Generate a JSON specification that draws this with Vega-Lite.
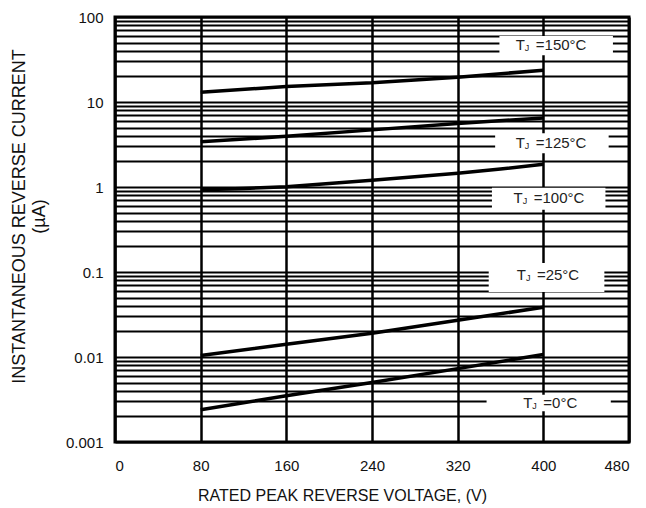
{
  "$schema": "https://vega.github.io/schema/vega-lite/v6.json",
  "width": 514,
  "height": 425,
  "autosize": "none",
  "padding": {"left": 115, "top": 17, "right": 17, "bottom": 66},
  "background": "white",
  "config": {
    "view": {"stroke": "black", "strokeWidth": 3},
    "font": "Liberation Sans"
  },
  "datasets": {
    "curves": [
      {"t": "150", "v": 80, "i": 13.0}, {"t": "150", "v": 160, "i": 15.2}, {"t": "150", "v": 240, "i": 16.8}, {"t": "150", "v": 320, "i": 19.6}, {"t": "150", "v": 400, "i": 23.6},
      {"t": "125", "v": 80, "i": 3.4}, {"t": "125", "v": 160, "i": 3.95}, {"t": "125", "v": 240, "i": 4.7}, {"t": "125", "v": 320, "i": 5.6}, {"t": "125", "v": 400, "i": 6.5},
      {"t": "100", "v": 80, "i": 0.93}, {"t": "100", "v": 120, "i": 0.96}, {"t": "100", "v": 160, "i": 1.01}, {"t": "100", "v": 200, "i": 1.1}, {"t": "100", "v": 240, "i": 1.2}, {"t": "100", "v": 280, "i": 1.32}, {"t": "100", "v": 320, "i": 1.45}, {"t": "100", "v": 360, "i": 1.63}, {"t": "100", "v": 400, "i": 1.85},
      {"t": "25", "v": 80, "i": 0.0104}, {"t": "25", "v": 160, "i": 0.0141}, {"t": "25", "v": 240, "i": 0.019}, {"t": "25", "v": 320, "i": 0.027}, {"t": "25", "v": 400, "i": 0.0385},
      {"t": "0", "v": 80, "i": 0.0024}, {"t": "0", "v": 160, "i": 0.0035}, {"t": "0", "v": 240, "i": 0.005}, {"t": "0", "v": 320, "i": 0.0073}, {"t": "0", "v": 400, "i": 0.0107}
    ],
    "boxes": [
      {"v": 359, "v2": 465, "i": 35.6, "i2": 59.7},
      {"v": 355, "v2": 461, "i": 2.5, "i2": 4.3},
      {"v": 352, "v2": 458, "i": 0.54, "i2": 0.98},
      {"v": 349, "v2": 457, "i": 0.058, "i2": 0.128},
      {"v": 347, "v2": 463, "i": 0.0023, "i2": 0.0036}
    ],
    "labels": [
      {"v": 393, "i": 46.8, "rest": "=150°C"},
      {"v": 393, "i": 3.27, "rest": "=125°C"},
      {"v": 391, "i": 0.74, "rest": "=100°C"},
      {"v": 394, "i": 0.093, "rest": "=25°C"},
      {"v": 400, "i": 0.0029, "rest": "=0°C"}
    ]
  },
  "layer": [
    {
      "data": {"name": "curves"},
      "mark": {"type": "line", "color": "black", "strokeWidth": 3.5},
      "encoding": {
        "x": {
          "field": "v", "type": "quantitative",
          "scale": {"domain": [0, 480], "nice": false, "zero": false},
          "axis": {
            "values": [0, 80, 160, 240, 320, 400, 480],
            "grid": true, "gridColor": "black", "gridWidth": 2.5, "gridOpacity": 1,
            "ticks": false, "domain": false,
            "labelFontSize": 15, "labelColor": "#111", "labelPadding": 16,
            "title": "RATED PEAK REVERSE VOLTAGE, (V)",
            "titleFontSize": 16, "titleFontWeight": "normal", "titleColor": "#111", "titlePadding": 14,
            "titleX": 227, "titleAlign": "center", "titleAnchor": null
          }
        },
        "y": {
          "field": "i", "type": "quantitative",
          "scale": {"type": "log", "domain": [0.001, 100], "nice": false},
          "axis": {
            "values": [0.001, 0.002, 0.003, 0.004, 0.005, 0.006, 0.007, 0.008, 0.009,
                       0.01, 0.02, 0.03, 0.04, 0.05, 0.06, 0.07, 0.08, 0.09,
                       0.1, 0.2, 0.3, 0.4, 0.5, 0.6, 0.7, 0.8, 0.9,
                       1, 2, 3, 4, 5, 6, 7, 8, 9,
                       10, 20, 30, 40, 50, 60, 70, 80, 90, 100],
            "labelExpr": "(abs(log(datum.value)/LN10 - round(log(datum.value)/LN10)) < 0.0001) ? format(datum.value, '~g') : ''",
            "labelOverlap": false, "labelBound": false,
            "grid": true, "gridColor": "black", "gridWidth": 2.2, "gridOpacity": 1,
            "ticks": false, "domain": false,
            "labelFontSize": 15, "labelColor": "#111", "labelPadding": 12,
            "title": ["INSTANTANEOUS REVERSE CURRENT", "(µA)"],
            "titleFontSize": 18, "titleFontWeight": "normal", "titleColor": "#111",
            "titleLineHeight": 20, "titlePadding": 17,
            "titleY": 199, "titleAlign": "center", "titleAnchor": null
          }
        },
        "detail": {"field": "t", "type": "nominal"}
      }
    },
    {
      "data": {"name": "boxes"},
      "mark": {"type": "rect", "fill": "white"},
      "encoding": {
        "x": {"field": "v", "type": "quantitative"},
        "x2": {"field": "v2"},
        "y": {"field": "i", "type": "quantitative"},
        "y2": {"field": "i2"}
      }
    },
    {
      "data": {"name": "labels"},
      "mark": {"type": "text", "text": "T", "align": "right", "baseline": "middle", "dx": -11, "fontSize": 15, "color": "#222"},
      "encoding": {
        "x": {"field": "v", "type": "quantitative"},
        "y": {"field": "i", "type": "quantitative"}
      }
    },
    {
      "data": {"name": "labels"},
      "mark": {"type": "text", "text": "J", "align": "left", "baseline": "middle", "dx": -11, "dy": 3, "fontSize": 9, "color": "#222"},
      "encoding": {
        "x": {"field": "v", "type": "quantitative"},
        "y": {"field": "i", "type": "quantitative"}
      }
    },
    {
      "data": {"name": "labels"},
      "mark": {"type": "text", "align": "left", "baseline": "middle", "fontSize": 15, "color": "#222"},
      "encoding": {
        "x": {"field": "v", "type": "quantitative"},
        "y": {"field": "i", "type": "quantitative"},
        "text": {"field": "rest"}
      }
    }
  ]
}
